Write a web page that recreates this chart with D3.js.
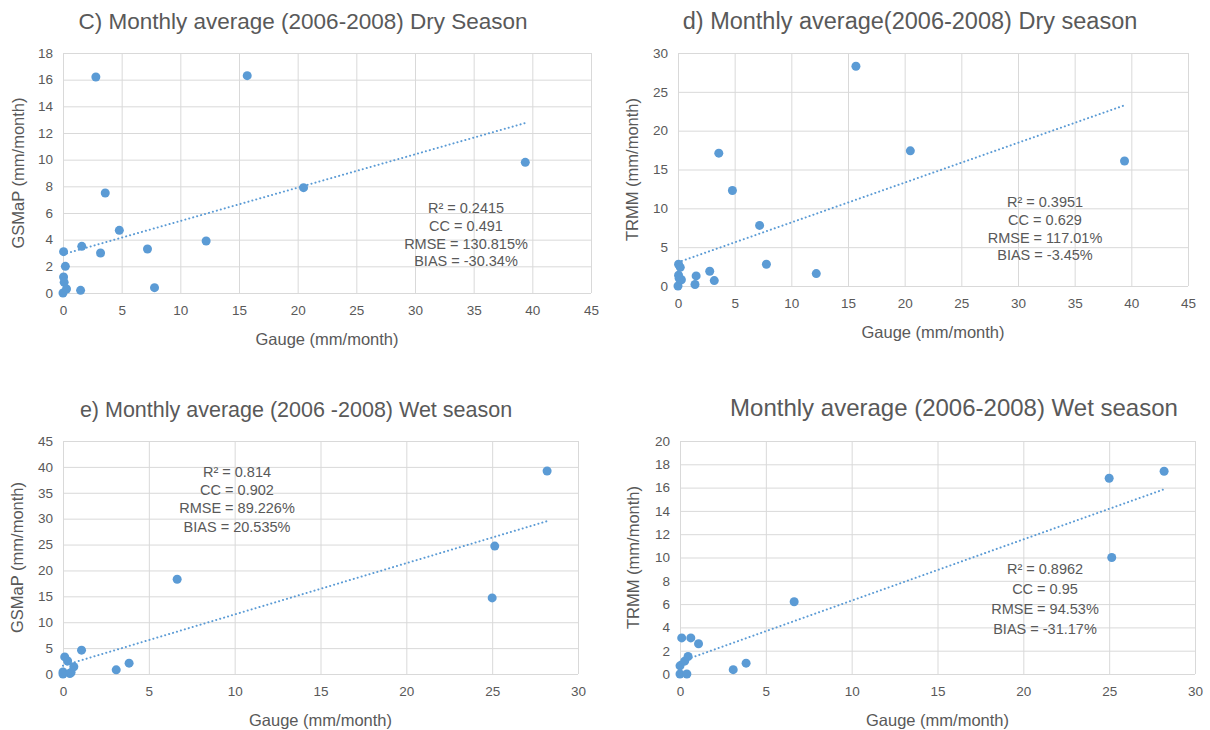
<!DOCTYPE html>
<html>
<head>
<meta charset="utf-8">
<script src="https://cdn.jsdelivr.net/npm/d3@7"></script>
<style>
  body { margin: 0; background: #fff; }
  svg text { font-family: "Liberation Sans", Arial, sans-serif; fill: #595959; }
  .grid line { stroke: #d9d9d9; stroke-width: 1; }
  .grid path { display: none; }
  .tick-label text { font-size: 13.5px; }
</style>
</head>
<body>
<div id="chart-area"></div>
<script>

// SVG Size
var width = 1210,
    height = 730;

// Gauge values (mm/month), dry and wet season
var gaugeDry = [0.0, 0.05, 0.05, 0.1, 0.2, 0.3, 1.5, 1.6, 2.8, 3.2, 3.6, 4.8, 7.2, 7.8, 12.2, 15.7, 20.5, 39.4];
var gsmapDry = [0.0, 3.1, 1.2, 0.8, 2.0, 0.3, 0.2, 3.5, 16.2, 3.0, 7.5, 4.7, 3.3, 0.4, 3.9, 16.3, 7.9, 9.8];
var trmmDry  = [0.0, 2.8, 1.4, 1.0, 2.4, 0.8, 0.2, 1.3, 1.9, 0.7, 17.1, 12.3, 7.8, 2.8, 1.6, 28.3, 17.4, 16.1];

var gaugeWet = [0.0, 0.0, 0.1, 0.27, 0.4, 0.47, 0.63, 1.08, 3.1, 3.85, 6.65, 25.0, 25.15, 28.2];
var gsmapWet = [0.4, 0.0, 3.3, 2.5, 0.1, 0.3, 1.4, 4.6, 0.8, 2.1, 18.3, 14.7, 24.7, 39.2];
var trmmWet  = [0.7, 0.0, 3.1, 1.1, 0.0, 1.5, 3.1, 2.6, 0.37, 0.93, 6.2, 16.8, 10.0, 17.4];

// Linear trendlines [slope, intercept]
var trendGsmapDry = [0.250, 2.90];
var trendTrmmDry  = [0.513, 3.05];
var trendGsmapWet = [0.990, 1.60];
var trendTrmmWet  = [0.525, 1.05];

// Statistics shown on each chart
var statsGsmapDry = ["R² = 0.2415", "CC = 0.491", "RMSE = 130.815%", "BIAS = -30.34%"];
var statsTrmmDry  = ["R² = 0.3951", "CC = 0.629", "RMSE = 117.01%", "BIAS = -3.45%"];
var statsGsmapWet = ["R² = 0.814", "CC = 0.902", "RMSE = 89.226%", "BIAS = 20.535%"];
var statsTrmmWet  = ["R² = 0.8962", "CC = 0.95", "RMSE = 94.53%", "BIAS = -31.17%"];

// Chart titles and axis labels
var titles = [
  "C) Monthly average (2006-2008) Dry Season",
  "d) Monthly average(2006-2008) Dry season",
  "e) Monthly average (2006 -2008) Wet season",
  "Monthly average (2006-2008) Wet season"
];
var xLabel = "Gauge (mm/month)";
var yLabels = ["GSMaP (mm/month)", "TRMM (mm/month)", "GSMaP (mm/month)", "TRMM (mm/month)"];

// Axis tick values
var xTicksDry = d3.range(0, 46, 5);
var xTicksWet = d3.range(0, 31, 5);
var yTicksGsmapDry = d3.range(0, 19, 2);
var yTicksTrmmDry  = d3.range(0, 31, 5);
var yTicksGsmapWet = d3.range(0, 46, 5);
var yTicksTrmmWet  = d3.range(0, 21, 2);

var pointColor = "#5b9bd5";

var svg = d3.select("#chart-area").append("svg")
    .attr("width", width)
    .attr("height", height);

function drawPanel(p) {
  var g = svg.append("g");

  var x = d3.scaleLinear()
    .domain(d3.extent(p.xTicks))
    .range([p.left, p.right]);

  var y = d3.scaleLinear()
    .domain(d3.extent(p.yTicks))
    .range([p.bottom, p.top]);

  // Gridlines
  g.append("g")
    .attr("class", "grid")
    .attr("transform", "translate(0," + p.bottom + ")")
    .call(d3.axisBottom(x).tickValues(p.xTicks).tickSize(-(p.bottom - p.top)).tickFormat(""));

  g.append("g")
    .attr("class", "grid")
    .attr("transform", "translate(" + p.left + ",0)")
    .call(d3.axisLeft(y).tickValues(p.yTicks).tickSize(-(p.right - p.left)).tickFormat(""));

  // Tick labels
  var xAxis = g.append("g")
    .attr("class", "tick-label")
    .attr("transform", "translate(0," + p.bottom + ")")
    .call(d3.axisBottom(x).tickValues(p.xTicks).tickSize(0).tickPadding(12));
  xAxis.select(".domain").remove();

  var yAxis = g.append("g")
    .attr("class", "tick-label")
    .attr("transform", "translate(" + p.left + ",0)")
    .call(d3.axisLeft(y).tickValues(p.yTicks).tickSize(0).tickPadding(10));
  yAxis.select(".domain").remove();

  g.selectAll(".tick-label text")
    .attr("fill", "#595959")
    .style("font-family", "'Liberation Sans', Arial, sans-serif");

  // Trendline
  var x0 = d3.min(p.gx), x1 = d3.max(p.gx);
  g.append("line")
    .attr("x1", x(x0))
    .attr("y1", y(p.trend[0] * x0 + p.trend[1]))
    .attr("x2", x(x1))
    .attr("y2", y(p.trend[0] * x1 + p.trend[1]))
    .attr("stroke", pointColor)
    .attr("stroke-width", 2)
    .attr("stroke-linecap", "round")
    .attr("stroke-dasharray", "0.1,4");

  // Points
  g.selectAll("circle.pt")
    .data(p.gx.map(function(v, i){ return [v, p.sy[i]]; }))
    .enter()
    .append("circle")
    .attr("class", "pt")
    .attr("cx", function(d){ return x(d[0]); })
    .attr("cy", function(d){ return y(d[1]); })
    .attr("r", 4.5)
    .attr("fill", pointColor);

  // Title
  g.append("text")
    .attr("x", p.titleX)
    .attr("y", p.titleY)
    .attr("text-anchor", "middle")
    .style("font-size", p.titleSize + "px")
    .text(p.title);

  // Axis labels
  g.append("text")
    .attr("x", (p.left + p.right) / 2)
    .attr("y", p.bottom + 52)
    .attr("text-anchor", "middle")
    .style("font-size", "16.5px")
    .text(xLabel);

  g.append("text")
    .attr("transform", "translate(" + p.yLabelX + "," + ((p.top + p.bottom) / 2) + ") rotate(-90)")
    .attr("text-anchor", "middle")
    .style("font-size", "16.5px")
    .text(p.yLabel);

  // Statistics
  g.append("g").selectAll("text")
    .data(p.stats)
    .enter()
    .append("text")
    .attr("x", p.statX)
    .attr("y", function(d, i){ return p.statY + i * p.statStep; })
    .attr("text-anchor", "middle")
    .style("font-size", "14.5px")
    .text(function(d){ return d; });
}

drawPanel({
  left: 63, right: 591, top: 53, bottom: 293,
  xTicks: xTicksDry, yTicks: yTicksGsmapDry,
  gx: gaugeDry, sy: gsmapDry, trend: trendGsmapDry,
  title: titles[0], titleX: 303, titleY: 29, titleSize: 22.5,
  yLabel: yLabels[0], yLabelX: 24,
  stats: statsGsmapDry, statX: 466, statY: 213, statStep: 17.8
});

drawPanel({
  left: 678, right: 1188, top: 53, bottom: 286,
  xTicks: xTicksDry, yTicks: yTicksTrmmDry,
  gx: gaugeDry, sy: trmmDry, trend: trendTrmmDry,
  title: titles[1], titleX: 910, titleY: 29, titleSize: 23.5,
  yLabel: yLabels[1], yLabelX: 638,
  stats: statsTrmmDry, statX: 1045, statY: 207, statStep: 17.8
});

drawPanel({
  left: 63, right: 578, top: 441, bottom: 674,
  xTicks: xTicksWet, yTicks: yTicksGsmapWet,
  gx: gaugeWet, sy: gsmapWet, trend: trendGsmapWet,
  title: titles[2], titleX: 296, titleY: 417, titleSize: 21.5,
  yLabel: yLabels[2], yLabelX: 23,
  stats: statsGsmapWet, statX: 237, statY: 477, statStep: 18.2
});

drawPanel({
  left: 680, right: 1195, top: 441, bottom: 674,
  xTicks: xTicksWet, yTicks: yTicksTrmmWet,
  gx: gaugeWet, sy: trmmWet, trend: trendTrmmWet,
  title: titles[3], titleX: 954, titleY: 416, titleSize: 24,
  yLabel: yLabels[3], yLabelX: 639,
  stats: statsTrmmWet, statX: 1045, statY: 574, statStep: 20
});

</script>
</body>
</html>
